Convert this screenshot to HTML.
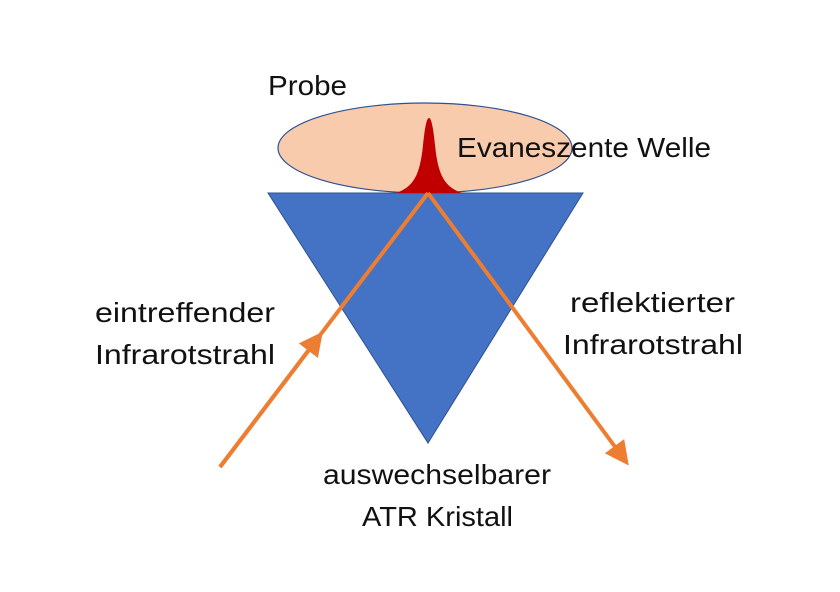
<!DOCTYPE html>
<html><head><meta charset="utf-8"><style>
html,body{margin:0;padding:0;background:#fff;}
svg{display:block;}
text{font-family:"Liberation Sans",sans-serif;font-size:28px;fill:#111;}
</style></head><body>
<svg width="840" height="592" viewBox="0 0 840 592">
<defs>
<marker id="ah" markerWidth="6" markerHeight="6" refX="4" refY="3" orient="auto" markerUnits="strokeWidth">
<path d="M0,0 L6,3 L0,6 Z" fill="#ED7D31"/>
</marker>
</defs>
<polygon points="268,193 583,193 428,443" fill="#4472C4" stroke="#2F528F" stroke-width="1"/>
<ellipse cx="425" cy="148" rx="147" ry="45" fill="#F8CBAD" stroke="#2F528F" stroke-width="1.2"/>
<path d="M396,193 C413,187 420,176 423,145 C425,125 427,118 429,118 C431,118 433,125 435,145 C438,176 445,187 462,193 Z" fill="#C00000"/>
<line x1="220" y1="467" x2="428" y2="193" stroke="#ED7D31" stroke-width="4"/>
<line x1="220" y1="467" x2="318" y2="338" stroke="#ED7D31" stroke-width="4" marker-end="url(#ah)"/>
<line x1="428" y1="193" x2="624" y2="459" stroke="#ED7D31" stroke-width="4" marker-end="url(#ah)"/>
<text x="268" y="95" textLength="79" lengthAdjust="spacingAndGlyphs">Probe</text>
<text x="457" y="157" textLength="254" lengthAdjust="spacingAndGlyphs">Evaneszente Welle</text>
<text x="95" y="322" textLength="180" lengthAdjust="spacingAndGlyphs">eintreffender</text>
<text x="95" y="364" textLength="180" lengthAdjust="spacingAndGlyphs">Infrarotstrahl</text>
<text x="570" y="312" textLength="165" lengthAdjust="spacingAndGlyphs">reflektierter</text>
<text x="563" y="354" textLength="180" lengthAdjust="spacingAndGlyphs">Infrarotstrahl</text>
<text x="323" y="484" textLength="228" lengthAdjust="spacingAndGlyphs">auswechselbarer</text>
<text x="362" y="526" textLength="151" lengthAdjust="spacingAndGlyphs">ATR Kristall</text>
</svg>
</body></html>
